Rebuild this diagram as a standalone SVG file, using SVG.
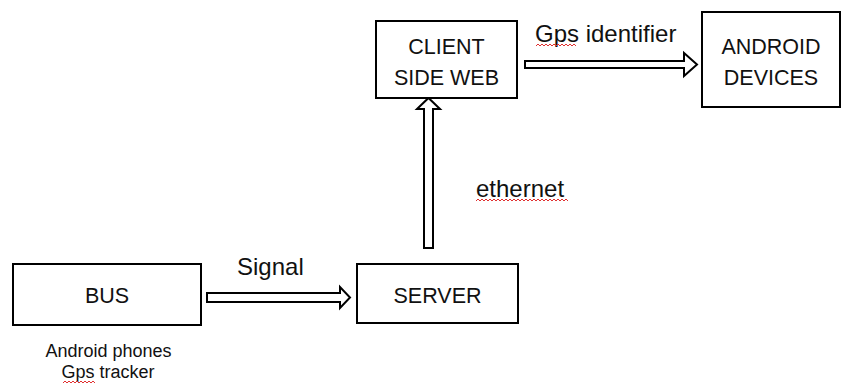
<svg xmlns="http://www.w3.org/2000/svg" width="842" height="385" viewBox="0 0 842 385">
<style>
.box{fill:#fff;stroke:#000;stroke-width:2}
.arrow{fill:#fff;stroke:#000;stroke-width:2;stroke-linejoin:miter}
.t{font-family:"Liberation Sans",Arial,sans-serif;fill:#111;text-anchor:middle}
.bt{font-size:21.5px}
.lb{font-size:24px;text-anchor:start}
.sm{font-size:18px}
.sq{fill:none;stroke:#e03030;stroke-width:1}
</style>
<rect width="842" height="385" fill="#fff"/>
<g id="connectors">
<polygon class="arrow" points="525,61 684,61 684,53 697,64.5 684,76 684,68 525,68"/>
<polygon class="arrow" points="207,293 340,293 340,287 350,297.5 340,308 340,302 207,302"/>
<polygon class="arrow" points="424,248 424,109 417,109 428.5,98 440,109 433,109 433,248"/>
<text class="t lb" x="535" y="42">Gps identifier</text>
<path class="sq" d="M536,46 l2,-2 2,2 2,-2 2,2 2,-2 2,2 2,-2 2,2 2,-2 2,2 2,-2 2,2 2,-2 2,2 2,-2 2,2 2,-2 2,2 2,-2 2,2"/>
<text class="t lb" x="476" y="197">ethernet</text>
<path class="sq" d="M476,201 l2,-2 2,2 2,-2 2,2 2,-2 2,2 2,-2 2,2 2,-2 2,2 2,-2 2,2 2,-2 2,2 2,-2 2,2 2,-2 2,2 2,-2 2,2 2,-2 2,2 2,-2 2,2 2,-2 2,2 2,-2 2,2 2,-2 2,2 2,-2 2,2 2,-2 2,2 2,-2 2,2 2,-2 2,2 2,-2 2,2 2,-2 2,2 2,-2 2,2 2,-2 2,2"/>
<text class="t lb" x="237" y="275" font-size="22">Signal</text>
</g>
<g id="client">
<rect class="box" x="376" y="21" width="141" height="77"/>
<text class="t bt" x="446.5" y="54">CLIENT</text>
<text class="t bt" x="446.5" y="85">SIDE WEB</text>
</g>
<g id="android">
<rect class="box" x="702" y="12" width="138" height="95"/>
<text class="t bt" x="771" y="54">ANDROID</text>
<text class="t bt" x="771" y="85">DEVICES</text>
</g>
<g id="bus">
<rect class="box" x="13" y="264" width="188" height="61"/>
<text class="t bt" x="107" y="303">BUS</text>
<text class="t sm" x="108.5" y="357">Android phones</text>
<text class="t sm" x="108" y="378">Gps tracker</text>
<path class="sq" d="M63,383 l2,-2 2,2 2,-2 2,2 2,-2 2,2 2,-2 2,2 2,-2 2,2 2,-2 2,2 2,-2 2,2 2,-2 2,2"/>
</g>
<g id="server">
<rect class="box" x="357" y="264" width="161" height="59"/>
<text class="t bt" x="437.5" y="303">SERVER</text>
</g>
</svg>
